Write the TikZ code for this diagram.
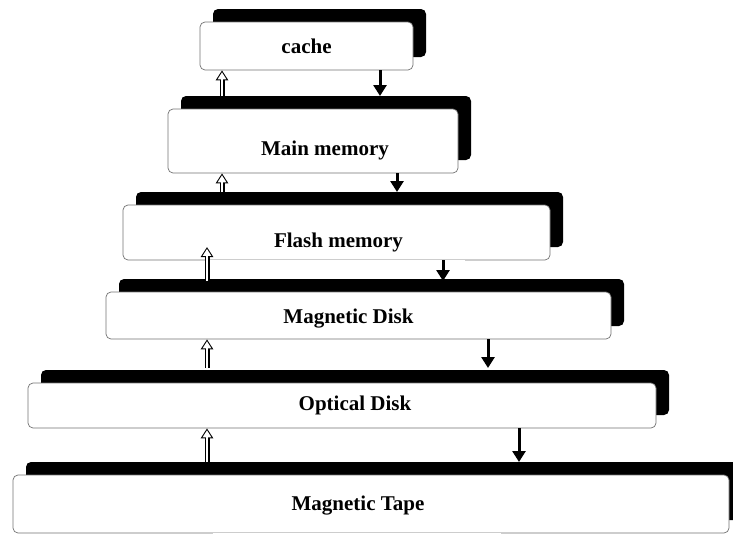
\documentclass[tikz,border=0pt]{standalone}
\usepackage{fontspec}
\setmainfont{Liberation Serif}
\usetikzlibrary{shadows,arrows.meta}

\begin{document}
\begin{tikzpicture}[x=1pt, y=-1pt,
        layer/.style={draw=black!55, fill=white, line width=0.7pt, rounded corners=5pt, inner sep=0pt,
            drop shadow={shadow xshift=13pt, shadow yshift=13pt, fill=black, opacity=1}},
        lbl/.style={font=\bfseries\fontsize{21}{25}\selectfont},
        uparr/.style={line width=5pt, -{Triangle[length=10pt, width=12pt]},
            postaction={draw=white, line width=2.6pt, shorten >=1.9pt,
                -{Triangle[length=7pt, width=8.2pt]}}},
        downarr/.style={line width=3pt, -{Triangle[length=11pt, width=13pt]}},
        gapline/.style={white, line width=1.6pt}]
    \useasboundingbox (0,0) rectangle (733,538);
    % the six levels, top to bottom
    \node[layer, minimum width=213pt, minimum height=48pt,
        label={[lbl]center:cache}] (cache) at (306.5,46) {};
    \node[layer, minimum width=290pt, minimum height=64pt,
        label={[lbl, xshift=12pt, yshift=-9pt]center:Main memory}] (main) at (313,141) {};
    \node[layer, minimum width=427pt, minimum height=55pt,
        label={[lbl, xshift=2pt, yshift=-10pt]center:Flash memory}] (flash) at (336.5,232.5) {};
    \node[layer, minimum width=505pt, minimum height=47pt,
        label={[lbl, xshift=-10pt, yshift=-3pt]center:Magnetic Disk}] (disk) at (358.5,315.5) {};
    \node[layer, minimum width=628pt, minimum height=45pt,
        label={[lbl, xshift=13pt]center:Optical Disk}] (optical) at (342,405.5) {};
    \node[layer, minimum width=716pt, minimum height=58pt,
        label={[lbl, xshift=-13pt, yshift=-2pt]center:Magnetic Tape}] (tape) at (371,504) {};
    % broken bottom edges
    \draw[gapline] ([xshift=87pt]flash.south west) -- ([xshift=342pt]flash.south west);
    \draw[gapline] ([xshift=200pt]tape.south west) -- ([xshift=488pt]tape.south west);
    % arrow ends on the shadow tops
    \coordinate (up1) at (222,96);
    \coordinate (up2) at (222,192);
    \coordinate (up3) at (207,281);
    \coordinate (up3t) at (207,247);
    \coordinate (up4) at (207,368);
    \coordinate (up5) at (207,462);
    \coordinate (dn1) at (380,96);
    \coordinate (dn2) at (397,192);
    \coordinate (dn3) at (443,281);
    \coordinate (dn4) at (488,368);
    \coordinate (dn5) at (519,462);
    % upward (hollow) arrows
    \draw[uparr] (up1) -- (up1 |- cache.south);
    \draw[uparr] (up2) -- (up2 |- main.south);
    \draw[uparr] (up3) -- (up3t);
    \draw[uparr] (up4) -- (up4 |- disk.south);
    \draw[uparr] (up5) -- (up5 |- optical.south);
    % downward (solid) arrows
    \draw[downarr] (dn1 |- cache.south) -- (dn1);
    \draw[downarr] (dn2 |- main.south) -- (dn2);
    \draw[downarr] (dn3 |- flash.south) -- (dn3);
    \draw[downarr] (dn4 |- disk.south) -- (dn4);
    \draw[downarr] (dn5 |- optical.south) -- (dn5);
\end{tikzpicture}
\end{document}
